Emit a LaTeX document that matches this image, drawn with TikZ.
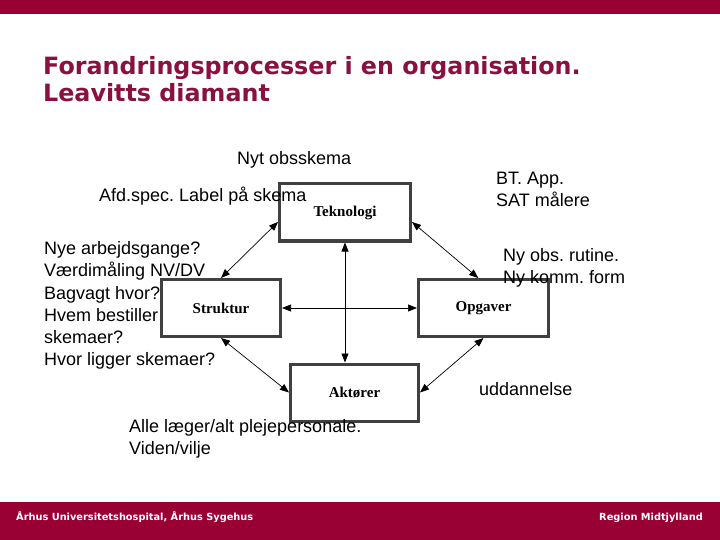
\documentclass[tikz,border=0pt]{standalone}
\usepackage{fontspec}
\setmainfont{Liberation Sans}
\newfontfamily\titlefont{DejaVu Sans}
\newfontfamily\boxfont{Liberation Serif}
\usetikzlibrary{arrows.meta,positioning}
\definecolor{regionred}{HTML}{990033}
\definecolor{titlered}{HTML}{8A1040}
\definecolor{boxgray}{HTML}{404040}
\frenchspacing

\begin{document}
\begin{tikzpicture}[x=1bp,y=-1bp,
    element/.style={draw=boxgray,line width=3bp,inner sep=0pt,minimum height=57bp,
      font=\boxfont\bfseries\fontsize{15bp}{17bp}\selectfont},
    note/.style={inner sep=0pt,anchor=base west,align=left,
      font=\fontsize{18bp}{22bp}\selectfont},
    link/.style={{Triangle[length=9bp,width=7bp]}-{Triangle[length=9bp,width=7bp]},line width=0.7bp},
    footer/.style={text=white,inner sep=0pt,anchor=base west,
      font=\titlefont\bfseries\fontsize{9.8bp}{11bp}\selectfont}]
  \useasboundingbox (0,0) rectangle (720,540);
  \fill[regionred] (0,0) rectangle (720,14);
  \fill[regionred] (0,502) rectangle (720,540);
  % title (base = last line)
  \node[anchor=base west,inner sep=0pt,align=left,text=titlered,
    font=\titlefont\bfseries\fontsize{23.8bp}{27bp}\selectfont] (title) at (43,102)
    {Forandringsprocesser i en organisation.\\Leavitts diamant};
  % diamond
  \node[element,minimum width=131bp] (tek) at (345,212.5) {Teknologi};
  \node[element,minimum width=119bp] (struk) at (221,308) {Struktur};
  \node[element,minimum width=130bp] (opg) at (483.5,308) {Opgaver};
  \node[element,minimum width=128bp] (akt) at (354.5,392.5) {Aktører};
  \draw[link] (tek.188) -- (struk.north);
  \draw[link] (tek.-8) -- (opg.100);
  \draw[link] (struk.south) -- (akt.west);
  \draw[link] (opg.south) -- (akt.east);
  \draw[link] (tek.south) -- (tek.south |- akt.north);
  \draw[link] (struk.east) -- (opg.west);
  % notes (base = last line)
  \node[note] (obs) at (237,165) {Nyt obsskema};
  \node[note] (afd) at (99,202) {Afd.spec. Label på skema};
  \node[note] (bt) at (496,207) {BT. App.\\SAT målere};
  \node[note] (nye) at (44,365) {Nye arbejdsgange?\\Værdimåling NV/DV\\Bagvagt hvor?\\Hvem bestiller\\skemaer?\\Hvor ligger skemaer?};
  \node[note] (nyobs) at (503,284) {Ny obs. rutine.\\Ny komm. form};
  \node[note] (udd) at (479,395) {uddannelse};
  \node[note] (alle) at (129,454) {Alle læger/alt plejepersonale.\\Viden/vilje};
  % footer
  \node[footer] (hosp) at (16,520) {Århus Universitetshospital, Århus Sygehus};
  \node[footer,anchor=base east] (region) at (703,520) {Region Midtjylland};
\end{tikzpicture}
\end{document}
